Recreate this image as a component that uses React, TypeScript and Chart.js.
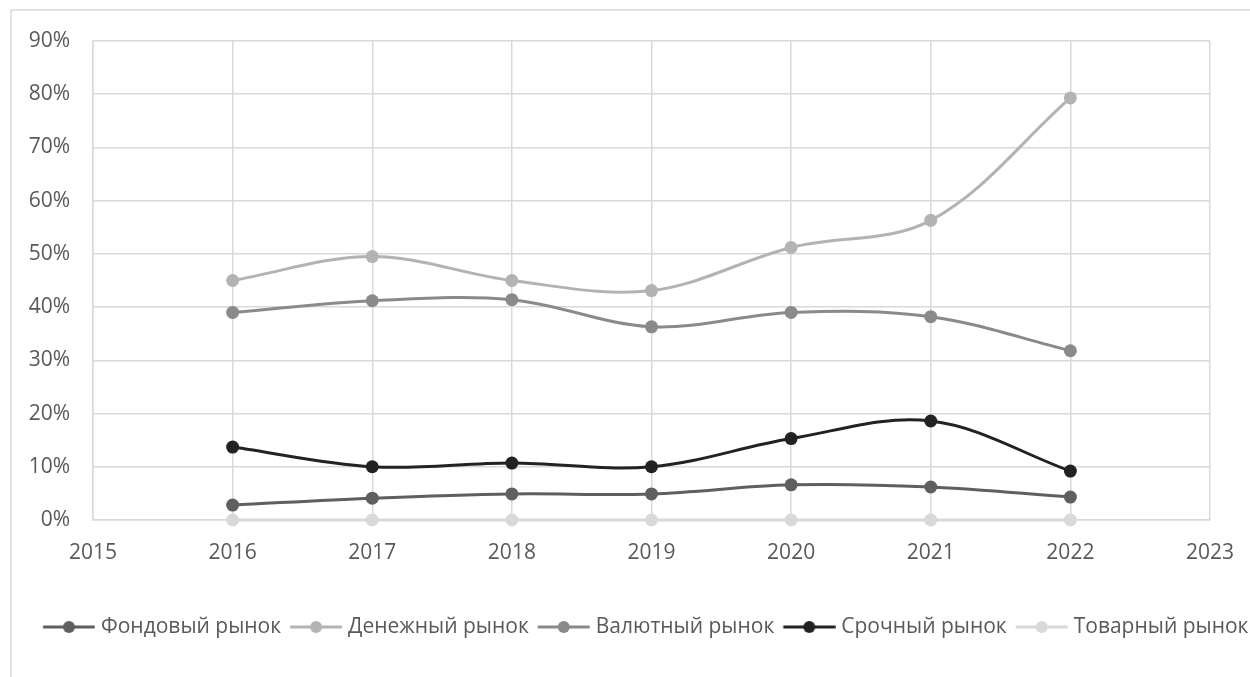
import React, { useEffect, useRef } from "react";
import { Chart, registerables } from "chart.js";

Chart.register(...registerables);

const years = [2016, 2017, 2018, 2019, 2020, 2021, 2022];
const seriesNames = ["Фондовый рынок", "Денежный рынок", "Валютный рынок", "Срочный рынок", "Товарный рынок"];
const fondovy = [2.8, 4.1, 4.9, 4.9, 6.6, 6.2, 4.3];
const denezhny = [45.0, 49.5, 45.0, 43.1, 51.2, 56.3, 79.3];
const valyutny = [39.0, 41.2, 41.4, 36.3, 39.0, 38.2, 31.8];
const srochny = [13.7, 10.0, 10.7, 10.0, 15.3, 18.6, 9.2];
const tovarny = [0, 0, 0, 0, 0, 0, 0];
const seriesColors = ["#5f5f5f", "#b3b3b3", "#8a8a8a", "#222222", "#d9d9d9"];
const yTicks = [0, 10, 20, 30, 40, 50, 60, 70, 80, 90];
const xMin = 2015;
const xMax = 2023;

const FONT = "'Open Sans', 'Noto Sans', sans-serif";

function makeLegendIcon(color: string) {
  const c = document.createElement("canvas");
  c.width = 66;
  c.height = 16;
  const ctx = c.getContext("2d")!;
  ctx.strokeStyle = color;
  ctx.lineWidth = 3;
  ctx.beginPath();
  ctx.moveTo(13.75, 8);
  ctx.lineTo(65.75, 8);
  ctx.stroke();
  ctx.fillStyle = color;
  ctx.beginPath();
  ctx.arc(39.75, 8, 6, 0, Math.PI * 2);
  ctx.fill();
  return c;
}

const framePlugin = {
  id: "frame",
  beforeDraw(chart: any) {
    const ctx = chart.ctx;
    ctx.save();
    ctx.fillStyle = "#ffffff";
    ctx.fillRect(0, 0, chart.width, chart.height);
    ctx.strokeStyle = "#d9d9d9";
    ctx.lineWidth = 1.5;
    ctx.strokeRect(11, 10, chart.width + 20, chart.height + 20);
    ctx.restore();
  },
};

const legendShiftPlugin = {
  id: "legendShift",
  afterLayout(chart: any) {
    const l = chart.legend;
    if (l) {
      l.left = 34;
      l.right = 1250;
    }
  },
};

export default function App() {
  const ref = useRef<HTMLCanvasElement>(null);
  useEffect(() => {
    const all = [fondovy, denezhny, valyutny, srochny, tovarny];
    const icons = seriesColors.map(makeLegendIcon);
    const datasets = all.map((vals, i) => ({
      label: seriesNames[i],
      data: vals.map((v, j) => ({ x: years[j], y: v })),
      borderColor: seriesColors[i],
      backgroundColor: seriesColors[i],
      pointBackgroundColor: seriesColors[i],
      pointBorderColor: seriesColors[i],
      borderWidth: 3,
      pointRadius: 6.5,
      pointBorderWidth: 0,
      tension: 0.35,
      clip: false as any,
      order: [2, 1, 2, 0, 3][i],
    }));
    const chart = new Chart(ref.current!, {
      type: "line",
      data: { datasets },
      plugins: [framePlugin, legendShiftPlugin],
      options: {
        animation: false,
        responsive: false,
        maintainAspectRatio: false,
        layout: { padding: { left: 0, right: 0, top: 41, bottom: 29.5 } },
        plugins: {
          tooltip: { enabled: false },
          legend: {
            position: "bottom",
            align: "start",
            labels: {
              usePointStyle: true,
              pointStyleWidth: 56.5,
              padding: 0,
              color: "#595959",
              font: { family: FONT, size: 21 },
              generateLabels: (ch: any) =>
                ch.data.datasets.map((d: any, i: number) => ({
                  text: d.label,
                  pointStyle: icons[i],
                  fillStyle: seriesColors[i],
                  strokeStyle: seriesColors[i],
                  lineWidth: 0,
                  hidden: false,
                  datasetIndex: i,
                  fontColor: "#595959",
                })),
            },
          },
        },
        scales: {
          x: {
            type: "linear",
            min: xMin,
            max: xMax,
            afterFit: (s: any) => {
              s.height = 96.5;
              s.paddingRight = 40;
            },
            ticks: {
              stepSize: 1,
              padding: 20,
              color: "#595959",
              font: { family: FONT, size: 21 },
              callback: (v: any) => String(v),
            },
            grid: { color: "#d9d9d9", lineWidth: 1.5, drawTicks: false },
            border: { color: "#d9d9d9", width: 1.5 },
          },
          y: {
            min: 0,
            max: 90,
            afterFit: (s: any) => {
              s.width = 93;
            },
            afterBuildTicks: (s: any) => {
              s.ticks = yTicks.map((v) => ({ value: v }));
            },
            ticks: {
              padding: 23,
              color: "#595959",
              font: { family: FONT, size: 21 },
              callback: (v: any) => v + "%",
            },
            grid: { color: "#d9d9d9", lineWidth: 1.5, drawTicks: false },
            border: { color: "#d9d9d9", width: 1.5 },
          },
        },
      },
    });
    return () => chart.destroy();
  }, []);
  return (
    <div style={{ position: "fixed", left: 0, top: 0, width: 1250, height: 677, background: "#fff" }}>
      <canvas ref={ref} width={1250} height={677} style={{ display: "block", width: 1250, height: 677 }} />
    </div>
  );
}
